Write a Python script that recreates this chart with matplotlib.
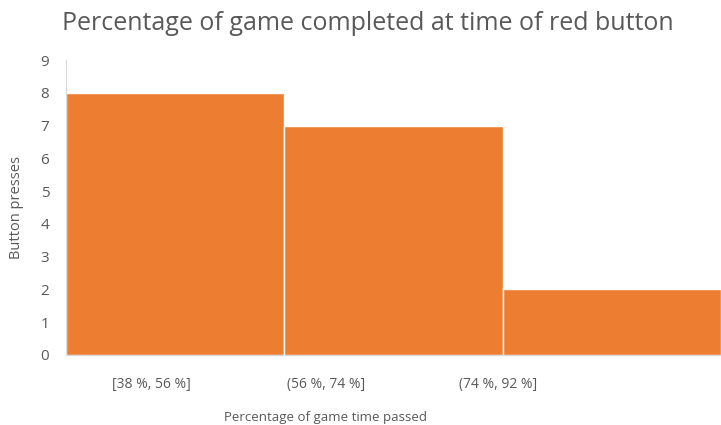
import matplotlib.pyplot as plt

plt.rcParams['font.family'] = ['Open Sans', 'DejaVu Sans']

bins = ['[38 %, 56 %]', '(56 %, 74 %]', '(74 %, 92 %]']
presses = [8, 7, 2]

text_color = '#595959'
fig = plt.figure(figsize=(7.21, 4.25), dpi=100)
ax = fig.add_axes([66 / 721, 70 / 425, 655 / 721, 295 / 425])

ax.bar(range(len(bins)), presses, width=1.0, align='edge',
       color='#ED7D31', edgecolor='white', linewidth=1)
ax.set_xlim(0, len(bins))
ax.set_ylim(0, 9)
ax.set_yticks(range(10))

# labels sit a bit left of the bar centres in the original
ax.set_xticks([0.39, 1.19, 1.98])
ax.set_xticklabels(bins)
ax.tick_params(axis='both', length=0, colors=text_color)
ax.tick_params(axis='x', pad=16, labelsize=10)
ax.tick_params(axis='y', pad=12, labelsize=11)

for side in ['top', 'right']:
    ax.spines[side].set_visible(False)
for side in ['left', 'bottom']:
    ax.spines[side].set_color('#D9D9D9')

ax.set_ylabel('Button presses', color=text_color, fontsize=10.5, labelpad=12)
ax.set_xlabel('Percentage of game time passed', color=text_color, fontsize=9.5)
ax.xaxis.set_label_coords((325 - 66) / 655, -0.19)
fig.text(0.51, 0.945, 'Percentage of game completed at time of red button',
         ha='center', va='center', color=text_color, fontsize=18)

fig.savefig('out.png', dpi=100)
